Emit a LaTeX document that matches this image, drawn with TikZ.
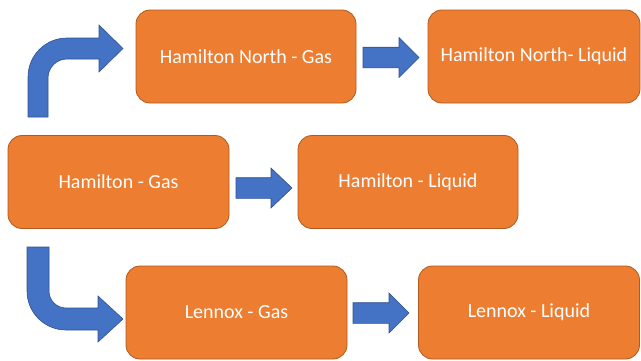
\documentclass[tikz,border=0pt]{standalone}
\usepackage{fontspec}
\setmainfont{Carlito}
\definecolor{boxfill}{HTML}{ED7D31}
\definecolor{boxline}{HTML}{AE5A21}
\definecolor{arrfill}{HTML}{4472C4}
\definecolor{arrline}{HTML}{2F528F}
\tikzset{
  stagebox/.style={draw=boxline, line width=0.8pt, fill=boxfill, rounded corners=14pt,
    minimum height=93pt, text=white, font=\fontsize{20}{24}\selectfont, inner sep=0pt},
  blockarrow/.style={draw=arrline, line width=0.6pt, fill=arrfill, line join=miter},
}
% straight block arrow: #1 tail x, #2 head start x, #3 tip x, #4 centre y
\newcommand\rightblock[4]{%
  \path[blockarrow] (#1,#4-10.3) -- (#2,#4-10.3) -- (#2,#4-20) -- (#3,#4)
    -- (#2,#4+20) -- (#2,#4+10.3) -- (#1,#4+10.3) -- cycle;}
\begin{document}
\begin{tikzpicture}[x=1pt,y=1pt]
\useasboundingbox (0,0) rectangle (641,360);

% stages
\node[stagebox, minimum width=220pt] (hng) at (246,303.5) {Hamilton North - Gas};
\node[stagebox, minimum width=212pt] (hnl) at (534,303.5) {Hamilton North- Liquid};
\node[stagebox, minimum width=221pt] (hg)  at (118.5,178) {Hamilton - Gas};
\node[stagebox, minimum width=220pt] (hl)  at (408,178) {Hamilton - Liquid};
\node[stagebox, minimum width=221pt] (lg)  at (236.5,47.5) {Lennox - Gas};
\node[stagebox, minimum width=221pt] (ll)  at (529,47.5) {Lennox - Liquid};

% straight block arrows between gas and liquid stages
\rightblock{363}{399}{419}{302.5}
\rightblock{236}{271}{292}{172}
\rightblock{353}{389}{409}{47}

% bent arrow up to Hamilton North
\path[blockarrow] (28,243) -- (28,283) arc[start angle=180,end angle=90,radius=39]
  -- (99,322) -- (99,335) -- (123,311.5) -- (99,288) -- (99,301) -- (67,301)
  arc[start angle=90,end angle=180,radius=19] -- (48,243) -- cycle;

% bent arrow down to Lennox
\path[blockarrow] (27,113) -- (27,69) arc[start angle=180,end angle=270,radius=39]
  -- (98,30) -- (98,18) -- (123,41) -- (98,64) -- (98,52) -- (66,52)
  arc[start angle=270,end angle=180,radius=17] -- (49,113) -- cycle;
\end{tikzpicture}
\end{document}
